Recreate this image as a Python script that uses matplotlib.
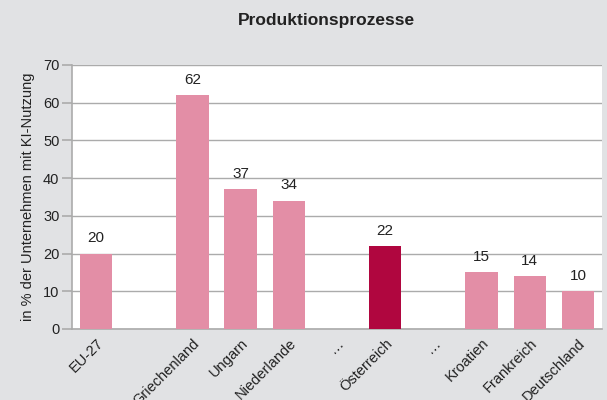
import matplotlib
matplotlib.use("Agg")
import matplotlib.pyplot as plt
from matplotlib import font_manager

names = {f.name for f in font_manager.fontManager.ttflist}
fam = "Liberation Sans Narrow" if "Liberation Sans Narrow" in names else "Liberation Sans"
plt.rcParams['font.family'] = [fam, 'DejaVu Sans']

categories = ["EU-27", "", "Griechenland", "Ungarn", "Niederlande", "…", "Österreich", "…",
              "Kroatien", "Frankreich", "Deutschland"]
values = [20, None, 62, 37, 34, None, 22, None, 15, 14, 10]
highlight = "Österreich"

bg = "#e1e2e4"
pink = "#e38ea6"
dark = "#b0063f"
grid = "#ababab"

fig = plt.figure(figsize=(6.07, 4.0), dpi=100, facecolor=bg)
ax = fig.add_axes([0.1186, 0.1775, 0.9918 - 0.1186, 0.8375 - 0.1775])
ax.set_facecolor("white")

for i, (c, v) in enumerate(zip(categories, values)):
    if v is None:
        continue
    col = dark if c == highlight else pink
    ax.bar(i, v, width=0.67, color=col, zorder=3)
    ax.text(i, v + 2.2, f"{v}", ha="center", va="bottom", fontsize=11, color="#222222", zorder=4)

ax.set_xlim(-0.5, len(categories) - 0.5)
ax.set_ylim(0, 70)
ax.set_yticks(range(0, 71, 10))
ax.yaxis.grid(True, color=grid, linewidth=1.0, zorder=0)
ax.set_axisbelow(True)
ax.set_xticks(range(len(categories)))
ax.set_xticklabels(categories, rotation=45, ha="right", rotation_mode="anchor", fontsize=10.5, color="#222222")
ax.tick_params(axis="x", length=0, pad=5)
ax.tick_params(axis="y", length=7, color=grid, width=1.2, labelsize=10.5, labelcolor="#222222", pad=2)
for s in ["top", "right"]:
    ax.spines[s].set_visible(False)
for s in ["left", "bottom"]:
    ax.spines[s].set_color(grid)
    ax.spines[s].set_linewidth(1.2)

ax.set_ylabel("in % der Unternehmen mit KI-Nutzung", fontsize=10.5, color="#222222", labelpad=6)
fig.text(0.537, 0.95, "Produktionsprozesse", ha="center", va="center", fontsize=12.5,
         fontweight="bold", color="#222222")

fig.savefig("out.png", dpi=100, facecolor=bg)
